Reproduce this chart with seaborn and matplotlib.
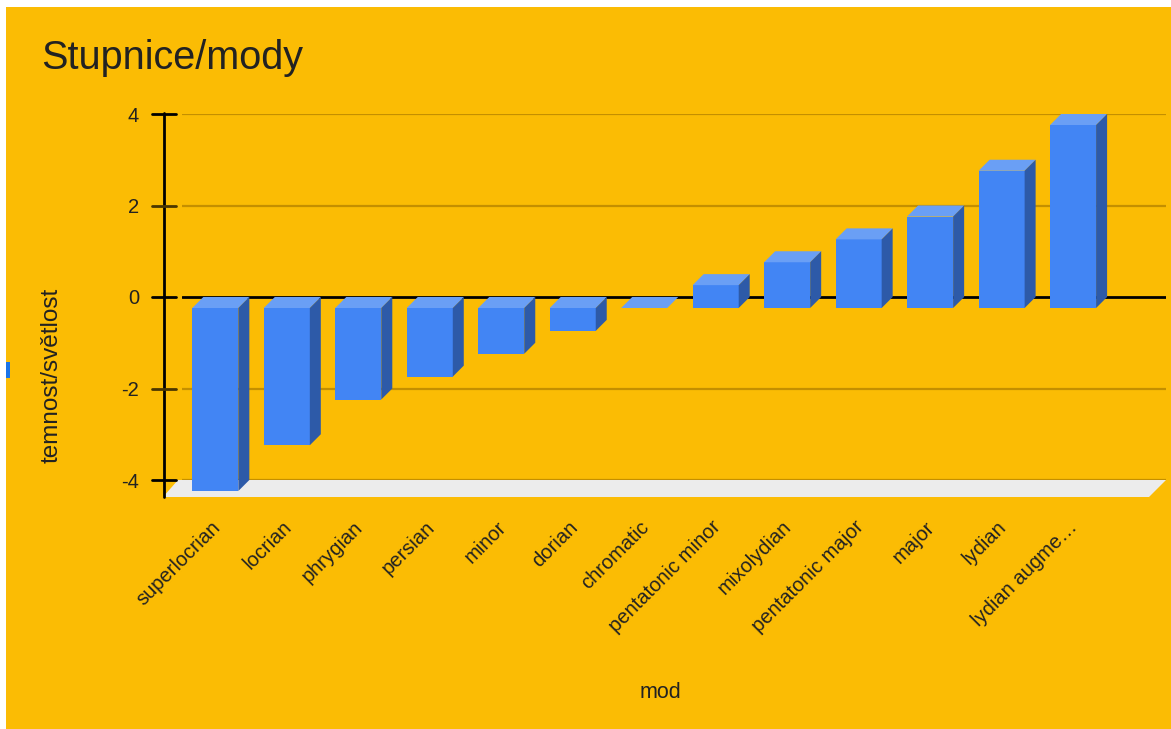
import matplotlib
matplotlib.use("Agg")
import matplotlib.pyplot as plt
import matplotlib.transforms as mtransforms
from matplotlib.patches import Polygon, Rectangle
import pandas as pd
import seaborn as sns

# ---- data -------------------------------------------------------------
modes = ["superlocrian", "locrian", "phrygian", "persian", "minor", "dorian",
         "chromatic", "pentatonic minor", "mixolydian", "pentatonic major",
         "major", "lydian", "lydian augme…"]
brightness = [-4, -3, -2, -1.5, -1, -0.5, 0, 0.5, 1, 1.5, 2, 3, 4]
y_ticks = [-4, -2, 0, 2, 4]
y_tick_labels = ["-4", "-2", "0", "2", "4"]

chart_title = "Stupnice/mody"
x_title = "mod"
y_title = "temnost/světlost"

# ---- style ------------------------------------------------------------
W, H, DPI = 1171, 729, 100
BG = "#fbbc04"
FRONT = "#4285f4"
TOP = "#6a9ff5"
SIDE = "#2d5aa8"
GRID = "#c48f00"
FLOOR = "#ececec"
TEXT = "#222222"

sns.set_style("white")
plt.rcParams["font.family"] = ["Liberation Sans", "DejaVu Sans"]

fig = plt.figure(figsize=(W / DPI, H / DPI), dpi=DPI, facecolor="white")
fig.patches.append(Rectangle((6 / W, 0), 1 - 6 / W, 1 - 7 / H,
                             transform=fig.transFigure, facecolor=BG,
                             edgecolor="none", zorder=-10))
fig.patches.append(Rectangle((6 / W, 1 - 378 / H), 4 / W, 16 / H,
                             transform=fig.transFigure, facecolor="#1a73e8",
                             edgecolor="none", zorder=-5))

# the axes box is the back wall of the 3D plot
left_px, right_px, top_px, bottom_px = 182, 1166, 114, 480
ax = fig.add_axes([left_px / W, 1 - bottom_px / H,
                   (right_px - left_px) / W, (bottom_px - top_px) / H])
ax.set_facecolor("none")
for s in ax.spines.values():
    s.set_visible(False)

df = pd.DataFrame({"mod": modes, "value": brightness})
sns.barplot(data=df, x="mod", y="value", order=modes, color=FRONT,
            saturation=1, width=0.644, edgecolor="none", zorder=4, ax=ax)

xmin, xmax = -0.62, 13.146
ymin, ymax = -4, 4
ax.set_xlim(xmin, xmax)
ax.set_ylim(ymin, ymax)

# size of one pixel in data units
ux = (xmax - xmin) / (right_px - left_px)
uy = (ymax - ymin) / (bottom_px - top_px)
depth = 11
ddx, ddy = depth * ux, depth * uy

# extrude each bar: front face moved forward, plus top and right side faces
for p in list(ax.patches):
    x0, w = p.get_x(), p.get_width()
    y0, h = p.get_y(), p.get_height()
    top, bot = max(y0, y0 + h), min(y0, y0 + h)
    p.set_x(x0 - ddx)
    p.set_y(y0 - ddy)
    p.set_clip_on(False)
    top_face = [(x0 - ddx, top - ddy), (x0 + w - ddx, top - ddy),
                (x0 + w, top), (x0, top)]
    side_face = [(x0 + w - ddx, top - ddy), (x0 + w - ddx, bot - ddy),
                 (x0 + w, bot), (x0 + w, top)]
    ax.add_patch(Polygon(top_face, closed=True, facecolor=TOP,
                         edgecolor="none", zorder=4, clip_on=False))
    ax.add_patch(Polygon(side_face, closed=True, facecolor=SIDE,
                         edgecolor="none", zorder=4, clip_on=False))

# gridlines on the back wall and the baseline
for v in y_ticks:
    if v != 0:
        ax.axhline(v, color=GRID, lw=1.6, zorder=1)
ax.axhline(0, color="black", lw=2, zorder=2)

# floor slab
floor = [(xmin - 4 * ux, ymin), (xmax, ymin),
         (xmax - 17 * ux, ymin - 17 * uy), (xmin - 19 * ux, ymin - 17 * uy)]
ax.add_patch(Polygon(floor, closed=True, facecolor=FLOOR, edgecolor="none",
                     zorder=0.5, clip_on=False))

# vertical axis line and tick marks
ax.plot([xmin - 18 * ux] * 2, [ymax + 1 * uy, ymin - 17 * uy],
        color="black", lw=2, clip_on=False, zorder=5)
for v in y_ticks:
    ax.plot([xmin - 30 * ux, xmin - 6 * ux], [v, v],
            color="black" if v in (-4, 0, 4) else "#4a3600",
            lw=2, clip_on=False, zorder=5)

ax.set_yticks(y_ticks)
ax.set_yticklabels(y_tick_labels)
ax.tick_params(axis="y", length=0, pad=43 * 72 / DPI, labelsize=14.5,
               labelcolor=TEXT)

ax.set_xticks(range(len(modes)))
ax.set_xticklabels(modes)
ax.tick_params(axis="x", length=0, pad=27, labelsize=14.5, labelcolor=TEXT)
shift = mtransforms.ScaledTranslation(-16 / DPI, 0, fig.dpi_scale_trans)
for lab in ax.get_xticklabels():
    lab.set_rotation(45)
    lab.set_ha("right")
    lab.set_rotation_mode("anchor")
    lab.set_transform(lab.get_transform() + shift)
ax.set_xlabel("")
ax.set_ylabel("")

# titles
fig.text(41 / W, 1 - 69 / H, chart_title, ha="left", va="baseline",
         fontsize=28.5, color=TEXT)
fig.text(660 / W, 1 - 693 / H, x_title, ha="center", va="center",
         fontsize=15.5, color=TEXT)
fig.text(52 / W, 1 - 375 / H, y_title, ha="center", va="center",
         rotation=90, fontsize=17.5, color=TEXT)

fig.savefig("out.png", dpi=DPI, facecolor=fig.get_facecolor())
